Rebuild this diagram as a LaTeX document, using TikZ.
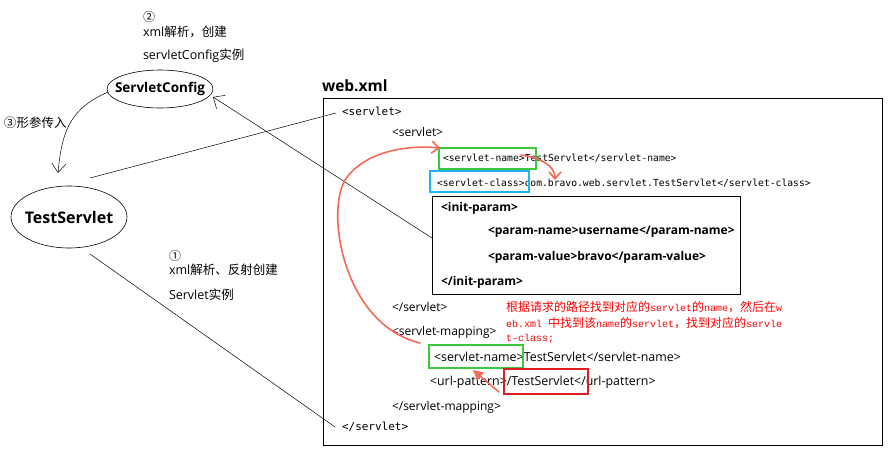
\documentclass[tikz,border=0pt]{standalone}
\usepackage{fontspec}
\setmainfont{Open Sans}
\newfontfamily\cjk{Noto Sans CJK SC}
\newfontfamily\cmono{DejaVu Sans Mono}
\newfontfamily\lmono{Liberation Mono}
\usetikzlibrary{shapes.geometric,arrows.meta}
\definecolor{salmon}{RGB}{244,106,86}
\definecolor{gbox}{RGB}{60,200,60}
\definecolor{cbox}{RGB}{30,180,240}
\definecolor{rbox}{RGB}{225,30,30}
\newcommand{\zh}[1]{{\cjk #1}}
\newcommand{\asc}[1]{{\lmono\fontsize{10}{12}\selectfont #1}}
\begin{document}
\begin{tikzpicture}[x=1pt,y=-1pt,
  every node/.style={inner sep=0pt,outer sep=0pt},
  lbl/.style={anchor=west,font=\fontsize{12.5}{14}\selectfont},
  codesans/.style={anchor=west,font=\fontsize{12.4}{14}\selectfont},
  codemono/.style={anchor=west,font=\cmono\fontsize{9.7}{12}\selectfont},
  codebold/.style={anchor=west,font=\bfseries\fontsize{12}{14}\selectfont},
  redtxt/.style={anchor=west,text=red,font=\fontsize{12}{14}\selectfont},
  oval/.style={draw,ellipse,line width=0.6pt},
  thin/.style={line width=0.5pt},
  redarrow/.style={draw=salmon,line width=1.6pt,line cap=round,-{Straight Barb[length=7pt,width=12pt]}},
  hl/.style={draw,line width=1.4pt}
]
\useasboundingbox (0,0) rectangle (893,455);
% left side
\node[oval,minimum width=106pt,minimum height=38pt] (sc) at (160,89) {};
\node[font=\bfseries\fontsize{13.5}{15}\selectfont] (sct) at (sc.center) {ServletConfig};
\node[oval,minimum width=116pt,minimum height=62pt] (ts) at (69,217) {};
\node[font=\bfseries\fontsize{16}{19}\selectfont] (tst) at (ts.center) {TestServlet};
\node[lbl,font=\cjk\fontsize{12}{14}\selectfont] (c2) at (143,17) {②};
\node[lbl] (t2a) at (143,32) {xml\zh{解析，创建}};
\node[lbl] (t2b) at (143,56) {servletConfig\zh{实例}};
\node[lbl] (t3) at (4,123) {\zh{③形参传入}};
\node[lbl,font=\cjk\fontsize{12}{14}\selectfont] (c1) at (169,256) {①};
\node[lbl] (t1a) at (169,270) {xml\zh{解析、反射创建}};
\node[lbl] (t1b) at (169,295) {Servlet\zh{实例}};
% web.xml
\node[anchor=west,font=\bfseries\fontsize{15.5}{18}\selectfont] (wx) at (322,86) {web.xml};
\node[draw,thin,anchor=north west,minimum width=559pt,minimum height=347pt] (box) at (323,98) {};
\node[codemono,font=\cmono\fontsize{11}{13}\selectfont] (l1) at (342,111) {<servlet>};
\node[codesans,font=\fontsize{12}{14}\selectfont] (l2) at (392,132) {<servlet>};
\node[codemono] (l3) at (443,158) {<servlet-name>TestServlet</servlet-name>};
\node[codemono] (l4) at (437,183) {<servlet-class>com.bravo.web.servlet.TestServlet</servlet-class>};
\node[draw,thin,anchor=north west,minimum width=308pt,minimum height=98pt] (ib) at (432,196) {};
\node[codebold] (p1) at (441,208) {<init-param>};
\node[codebold] (p2) at (488,232) {<param-name>username</param-name>};
\node[codebold] (p3) at (488,257) {<param-value>bravo</param-value>};
\node[codebold] (p4) at (441,282) {</init-param>};
\node[codesans,font=\fontsize{12}{14}\selectfont] (l5) at (392,307) {</servlet>};
\node[codesans,font=\fontsize{12}{14}\selectfont] (l6) at (392,332) {<servlet-mapping>};
\node[codesans] (l7) at (434,357) {<servlet-name>TestServlet</servlet-name>};
\node[codesans] (l8) at (430,382) {<url-pattern>/TestServlet</url-pattern>};
\node[codesans,font=\fontsize{12}{14}\selectfont] (l9) at (392,407) {</servlet-mapping>};
\node[codemono,font=\cmono\fontsize{11}{13}\selectfont] (l10) at (342,427) {</servlet>};
% highlight boxes
\node[hl,draw=gbox,anchor=north west,minimum width=97pt,minimum height=21pt] (g1) at (439,148) {};
\node[hl,draw=cbox,anchor=north west,minimum width=99pt,minimum height=21pt] (cb) at (430,171) {};
\node[hl,draw=gbox,anchor=north west,minimum width=94pt,minimum height=23pt] (g2) at (429,345) {};
\node[hl,draw=rbox,anchor=north west,minimum width=84pt,minimum height=25pt] (rb) at (504,369) {};
% red note
\node[redtxt] (r1) at (506,307) {\zh{根据请求的路径找到对应的}\asc{servlet}\zh{的}\asc{name}\zh{，然后在}\asc{w}};
\node[redtxt] (r2) at (506,323) {\asc{eb.xml }\zh{中找到该}\asc{name}\zh{的}\asc{servlet}\zh{，找到对应的}\asc{servle}};
\node[redtxt] (r3) at (506,339) {\asc{t-class;}};
% black connectors
\coordinate (tsa) at (90,178);
\coordinate (tsb) at (90,254);
\coordinate (l1w) at (336,113);
\coordinate (l10w) at (335,427);
\coordinate (scw) at (108,92);
\coordinate (tsn) at (58,173);
\coordinate (scse) at (213,97);
\coordinate (ibw) at (432,238);
\draw[thin] (tsa) -- (l1w);
\draw[thin] (tsb) -- (l10w);
\draw[thin,-{Straight Barb[length=9pt,width=16pt]}] (ibw) -- (scse);
\draw[thin,-{Straight Barb[length=9pt,width=14pt]}] (scw) .. controls (72,108) and (62,128) .. (tsn);
% red arrows
\coordinate (rs) at (420,343);
\coordinate (rt) at (440,148);
\path[redarrow] (rs) .. controls (345,325) and (325,215) .. (345,180) .. controls (365,150) and (410,145) .. (rt);
\coordinate (g1e) at (521,155);
\coordinate (g1t) at (555,180);
\path[redarrow] (g1e) .. controls (540,158) and (555,165) .. (g1t);
\coordinate (rbw) at (499,392);
\coordinate (g2s) at (473,370);
\path[redarrow,-{Triangle[length=10pt,width=10pt]}] (rbw) -- (g2s);
\end{tikzpicture}
\end{document}
